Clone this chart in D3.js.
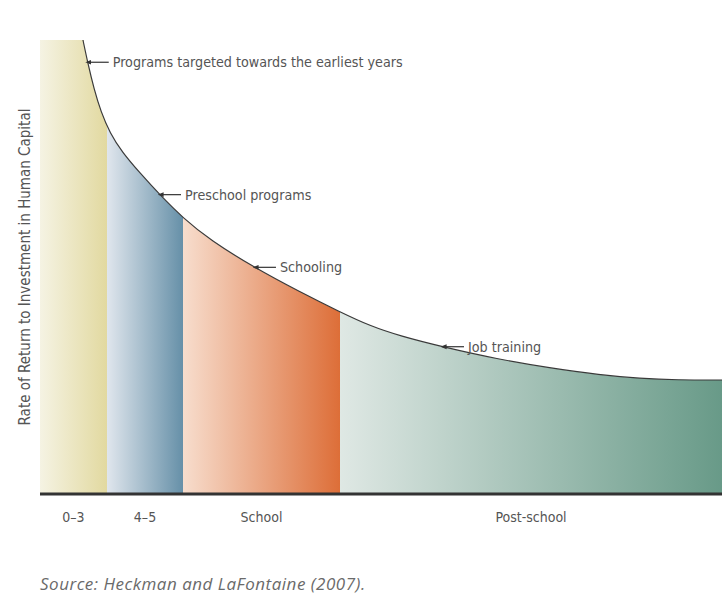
<!DOCTYPE html>
<html>
<head>
<meta charset="utf-8">
<script src="https://cdn.jsdelivr.net/npm/d3@7"></script>
<style>
body { margin: 0; background: #fff; }
svg { display: block; }
</style>
</head>
<body>
<div id="chart"></div>
<script>
// curve of returns, x = life stage position (0-100), y = rate of return (0-100)
var curveX = [6.30, 7.04, 7.92, 8.94, 10.26, 12.02, 14.66, 17.60, 20.97, 24.93, 31.52, 38.12, 43.99, 48.39, 52.79, 59.09, 67.01, 74.78, 82.11, 87.98, 93.40, 100];
var curveY = [100, 94.70, 89.18, 84.11, 79.47, 75.28, 70.64, 65.78, 60.71, 55.85, 49.67, 44.37, 39.96, 36.87, 34.66, 32.23, 29.58, 27.59, 26.05, 25.28, 24.94, 24.94];

// stage bands
var bandNames = ["0\u20133", "4\u20135", "School", "Post-school"];
var bandStart = [0, 9.82, 20.97, 43.99];
var bandEnd = [9.82, 20.97, 43.99, 100];
var bandColorL = ["#f5f3e3", "#e0e6ed", "#f7ddcd", "#dfe8e4"];
var bandColorR = ["#e2d9a0", "#6690a8", "#dd6e38", "#689a88"];

// annotations
var noteText = ["Programs targeted towards the earliest years", "Preschool programs", "Schooling", "Job training"];
var noteX = [7.0, 17.6, 31.52, 59.09];

var width = 723, height = 612;
var mLeft = 40, mRight = 722, mTop = 40, mBottom = 493;

var x = d3.scaleLinear().domain([0, 100]).range([mLeft, mRight]);
var y = d3.scaleLinear().domain([0, 100]).range([mBottom, mTop]);

var pts = curveX.map(function(d, i){ return [d, curveY[i]]; });

var svg = d3.select("#chart").append("svg")
    .attr("width", width)
    .attr("height", height);

var defs = svg.append("defs");

var area = d3.area()
    .x(function(d){ return x(d[0]); })
    .y0(y(0))
    .y1(function(d){ return y(d[1]); })
    .curve(d3.curveBasis);

var line = d3.line()
    .x(function(d){ return x(d[0]); })
    .y(function(d){ return y(d[1]); })
    .curve(d3.curveBasis);

bandNames.forEach(function(name, i){
    var g = defs.append("linearGradient")
        .attr("id", "grad" + i)
        .attr("gradientUnits", "userSpaceOnUse")
        .attr("x1", x(bandStart[i])).attr("x2", x(bandEnd[i]))
        .attr("y1", 0).attr("y2", 0);
    g.append("stop").attr("offset", "0%").attr("stop-color", bandColorL[i]);
    g.append("stop").attr("offset", "100%").attr("stop-color", bandColorR[i]);

    defs.append("clipPath").attr("id", "clip" + i)
        .append("rect")
        .attr("x", x(bandStart[i]))
        .attr("y", 0)
        .attr("width", x(bandEnd[i]) - x(bandStart[i]))
        .attr("height", height);

    var grp = svg.append("g").attr("clip-path", "url(#clip" + i + ")");
    if (i == 0) {
        // full height before the curve starts
        grp.append("rect")
            .attr("x", x(0))
            .attr("y", y(100))
            .attr("width", x(curveX[0]) - x(0) + 1)
            .attr("height", y(0) - y(100))
            .attr("fill", "url(#grad0)");
    }
    grp.append("path")
        .datum(pts)
        .attr("d", area)
        .attr("fill", "url(#grad" + i + ")");
});

// curve
var curvePath = svg.append("path")
    .datum(pts)
    .attr("d", line)
    .attr("fill", "none")
    .attr("stroke", "#3a3a3a")
    .attr("stroke-width", 1.2);

// baseline
svg.append("line")
    .attr("x1", x(0)).attr("x2", x(100))
    .attr("y1", y(0) + 1).attr("y2", y(0) + 1)
    .attr("stroke", "#333")
    .attr("stroke-width", 3);

// band labels
svg.selectAll(".band-label")
    .data(bandNames)
    .enter()
    .append("text")
    .attr("class", "band-label")
    .attr("x", function(d, i){ return x((bandStart[i] + bandEnd[i]) / 2); })
    .attr("y", 522)
    .attr("text-anchor", "middle")
    .attr("font-family", "'DejaVu Sans Condensed', sans-serif")
    .attr("font-size", "14px")
    .attr("fill", "#555")
    .text(function(d){ return d; });

// find y on curve for a pixel x
function curveYAt(px) {
    var node = curvePath.node();
    var len = node.getTotalLength();
    var lo = 0, hi = len;
    for (var k = 0; k < 40; k++) {
        var mid = (lo + hi) / 2;
        if (node.getPointAtLength(mid).x < px) lo = mid; else hi = mid;
    }
    return node.getPointAtLength(lo).y;
}

defs.append("marker")
    .attr("id", "arrow")
    .attr("viewBox", "0 0 10 10")
    .attr("refX", 1).attr("refY", 5)
    .attr("markerWidth", 5).attr("markerHeight", 5)
    .attr("orient", "auto")
    .append("path")
    .attr("d", "M10,5 L0,1 L0,9 Z")
    .attr("fill", "#333");

noteText.forEach(function(t, i){
    var px = x(noteX[i]);
    var py = curveYAt(px);
    svg.append("line")
        .attr("x1", px + 21).attr("x2", px + 3)
        .attr("y1", py).attr("y2", py)
        .attr("stroke", "#333")
        .attr("stroke-width", 1.2)
        .attr("marker-end", "url(#arrow)");
    svg.append("text")
        .attr("x", px + 25)
        .attr("y", py + 5)
        .attr("font-family", "'DejaVu Sans Condensed', sans-serif")
        .attr("font-size", "14.2px")
        .attr("fill", "#555")
        .text(t);
});

// y axis title
svg.append("text")
    .attr("transform", "translate(30,267) rotate(-90)")
    .attr("text-anchor", "middle")
    .attr("font-family", "'DejaVu Sans Condensed', sans-serif")
    .attr("font-size", "15px")
    .attr("fill", "#555")
    .text("Rate of Return to Investment in Human Capital");

// source
svg.append("text")
    .attr("x", 40)
    .attr("y", 590)
    .attr("font-family", "'Open Sans', sans-serif")
    .attr("font-style", "italic")
    .attr("font-size", "17px")
    .attr("letter-spacing", "0.5px")
    .attr("fill", "#6a6a6a")
    .text("Source: Heckman and LaFontaine (2007).");
</script>
</body>
</html>
